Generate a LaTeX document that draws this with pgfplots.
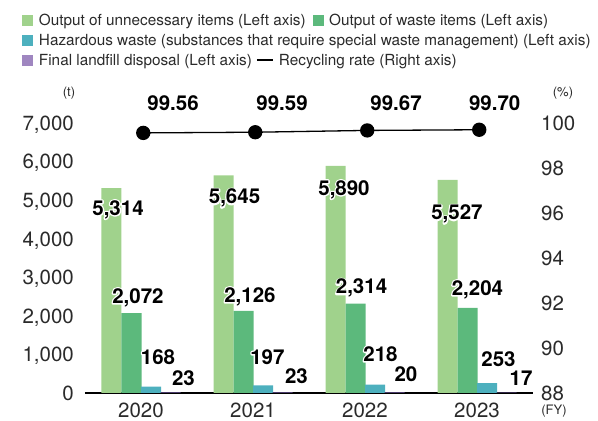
\documentclass[border=0pt]{standalone}
\usepackage{pgfplots}
\usepackage{pgfplotstable}
\pgfplotsset{compat=1.18}
\usepackage{fontspec}
\setmainfont{TeX Gyre Heros}
\definecolor{cA}{HTML}{A0D28C}
\definecolor{cB}{HTML}{5CB97C}
\definecolor{cC}{HTML}{4DB0BE}
\definecolor{cD}{HTML}{9F86C0}
\definecolor{cDbar}{HTML}{4A3A6A}
\definecolor{txt}{HTML}{2A2A2A}
\newcommand{\sq}[1]{\textcolor{#1}{\rule{11pt}{11pt}}}
\newcommand{\halo}[1]{\leavevmode\rlap{\special{pdf:code q 1 Tr 2.8 w 1 J 1 j 1 1 1 RG}#1\special{pdf:code Q}}#1}

\pgfplotstableread{
x y
0 5314
1 5645
2 5890
3 5527
}\unnecessary
\pgfplotstableread{
x y
0 2072
1 2126
2 2314
3 2204
}\waste
\pgfplotstableread{
x y
0 168
1 197
2 218
3 253
}\hazard
\pgfplotstableread{
x y
0 23
1 23
2 20
3 17
}\landfill
\pgfplotstableread{
x y
0.02 99.56
1.02 99.59
2.02 99.67
3.02 99.70
}\recycling
\pgfplotstableread{
x y lab
-0.205 4796 5,314
0.835 5089 5,645
1.8125 5315 5,890
2.821 4675 5,527
-0.027 2515 2,072
0.973 2541 2,126
1.969 2756 2,314
3.004 2722 2,204
0.152 933 168
1.129 933 197
2.138 1011 218
3.192 881 253
0.379 389 23
1.388 423 23
2.366 493 20
3.393 389 17
}\barlabels
\pgfplotstableread{
x y lab
0.286 100.89 99.56
1.259 100.89 99.59
2.277 100.89 99.67
3.158 100.89 99.70
}\ratelabels

\begin{document}
\begin{tikzpicture}
\path[use as bounding box] (0,0) rectangle (598pt,421pt);
\begin{axis}[
  at={(85pt,28pt)}, anchor=south west,
  scale only axis, width=448pt, height=270pt,
  xmin=-0.5, xmax=3.5, ymin=0, ymax=7000,
  axis x line*=bottom, axis y line*=left,
  separate axis lines,
  x axis line style={-, line width=1.2pt, black},
  y axis line style={draw=none},
  major tick length=0pt, tick style={draw=none},
  xtick={0,1,2,3}, xticklabels={2020,2021,2022,2023},
  ytick={0,1000,...,7000},
  /pgf/number format/assume math mode=true,
  /pgf/number format/1000 sep={,},
  scaled y ticks=false,
  yticklabel style={anchor=base east, inner sep=0pt, xshift=-11pt, yshift=-7.4pt, text=txt, font=\fontsize{20.5}{24}\selectfont},
  xticklabel style={anchor=base, inner sep=0pt, yshift=-24.5pt, text=txt, font=\fontsize{20.5}{24}\selectfont},
  clip=false,
]
\addplot[ybar, bar width=20pt, bar shift=-29.5pt, fill=cA, draw=none] table[x=x,y=y] {\unnecessary};
\addplot[ybar, bar width=20pt, bar shift=-9.5pt, fill=cB, draw=none] table[x=x,y=y] {\waste};
\addplot[ybar, bar width=20pt, bar shift=10pt, fill=cC, draw=none] table[x=x,y=y] {\hazard};
\addplot[ybar, bar width=20pt, bar shift=29.5pt, fill=cDbar, draw=none] table[x=x,y=y] {\landfill};
\addplot[draw=none, mark=none, point meta=explicit symbolic,
  nodes near coords={\halo{\pgfplotspointmeta}},
  nodes near coords style={anchor=base, inner sep=0pt, yshift=-7.2pt, text=black, font=\fontsize{20.5}{24}\selectfont\bfseries}]
  table[x=x,y=y,meta=lab] {\barlabels};
\end{axis}
\begin{axis}[
  at={(85pt,28pt)}, anchor=south west,
  scale only axis, width=448pt, height=270pt,
  xmin=-0.5, xmax=3.5, ymin=88, ymax=100,
  axis x line=none, axis y line*=right,
  y axis line style={draw=none},
  major tick length=0pt, tick style={draw=none},
  ytick={88,90,...,100},
  /pgf/number format/assume math mode=true,
  yticklabel style={anchor=base west, inner sep=0pt, xshift=8pt, yshift=-7.4pt, text=txt, font=\fontsize{20.5}{24}\selectfont},
  clip=false,
]
\addplot[black, line width=1.3pt, mark=*, mark size=6.5pt, mark options={fill=black}] table[x=x,y=y] {\recycling};
\addplot[draw=none, mark=none, point meta=explicit symbolic,
  nodes near coords={\pgfplotspointmeta},
  nodes near coords style={anchor=base, inner sep=0pt, yshift=-7.2pt, text=black, font=\fontsize{20.5}{24}\selectfont\bfseries}]
  table[x=x,y=y,meta=lab] {\ratelabels};
\end{axis}
% legend
\node[anchor=base west, inner sep=0pt, text=txt, font=\fontsize{15.3}{18}\selectfont] at (22.3pt,395.3pt)
  {\sq{cA}\hspace{5.5pt}Output of unnecessary items (Left axis)\hspace{7pt}\sq{cB}\hspace{5.5pt}Output of waste items (Left axis)};
\node[anchor=base west, inner sep=0pt, text=txt, font=\fontsize{15.3}{18}\selectfont] at (22.3pt,375.3pt)
  {\sq{cC}\hspace{5.5pt}Hazardous waste (substances that require special waste management) (Left axis)};
\node[anchor=base west, inner sep=0pt, text=txt, font=\fontsize{15.3}{18}\selectfont] at (22.3pt,355.3pt)
  {\sq{cD}\hspace{5.5pt}Final landfill disposal (Left axis)\hspace{5pt}\textcolor{black}{\rule[4.5pt]{16pt}{2.5pt}}\hspace{6pt}Recycling rate (Right axis)};
% units
\node[text=txt, font=\fontsize{13}{15}\selectfont, inner sep=0pt] at (69pt,328pt) {(t)};
\node[text=txt, font=\fontsize{13}{15}\selectfont, inner sep=0pt] at (563pt,328.3pt) {(\%)};
\node[text=txt, font=\fontsize{13}{15}\selectfont, inner sep=0pt] at (554pt,10pt) {(FY)};
\end{tikzpicture}
\end{document}
